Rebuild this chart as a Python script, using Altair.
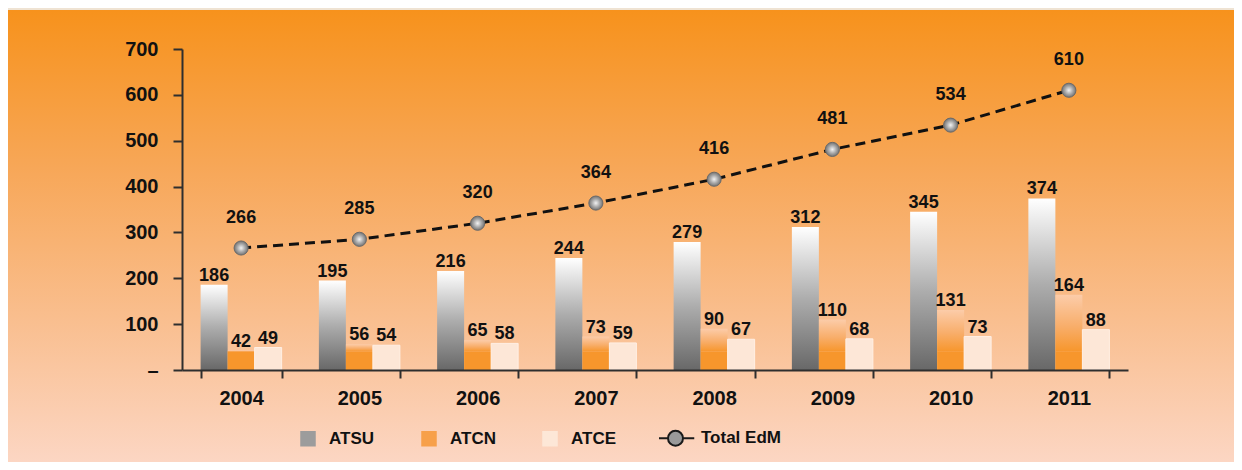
import altair as alt
import pandas as pd

years = ["2004", "2005", "2006", "2007", "2008", "2009", "2010", "2011"]
series_names = ["ATSU", "ATCN", "ATCE"]
atsu = [186, 195, 216, 244, 279, 312, 345, 374]
atcn = [42, 56, 65, 73, 90, 110, 131, 164]
atce = [49, 54, 58, 59, 67, 68, 73, 88]
total_name = "Total EdM"
total = [266, 285, 320, 364, 416, 481, 534, 610]
y_ticks = [0, 100, 200, 300, 400, 500, 600, 700]

FONT = "Liberation Sans, Arial, sans-serif"

rows = []
for name, vals in zip(series_names, [atsu, atcn, atce]):
    for yr, v in zip(years, vals):
        rows.append({"year": yr, "series": name, "value": v})
bars_df = pd.DataFrame(rows)
total_df = pd.DataFrame({"year": years, "value": total})
legend_df = pd.DataFrame({"series": series_names + [total_name]})

W, H = 946, 321
PAD = {"left": 174, "top": 41, "right": 106, "bottom": 92}

x_enc = alt.X(
    "year:N",
    scale=alt.Scale(domain=years, paddingInner=0.315, paddingOuter=0.1575),
    axis=alt.Axis(
        title=None, labelAngle=0, tickBand="extent", domainColor="#2e2e2e",
        domainWidth=2, tickColor="#2e2e2e", tickWidth=2, tickSize=8,
        labelFont=FONT, labelFontSize=20, labelFontWeight="bold",
        labelColor="#111111", labelPadding=10, labelBaseline="top", zindex=1,
    ),
)
y_scale = alt.Scale(domain=[0, 700], nice=False)
y_axis = alt.Axis(
    title=None, values=y_ticks, domainColor="#2e2e2e", domainWidth=2,
    tickColor="#2e2e2e", tickWidth=2, tickSize=9, labelFont=FONT,
    labelFontSize=20, labelFontWeight="bold", labelColor="#111111",
    labelPadding=15, labelExpr="datum.value == 0 ? '–' : datum.label",
    grid=False, zindex=1,
)
xoff = alt.XOffset(
    "series:N",
    scale=alt.Scale(domain=series_names, paddingInner=0, paddingOuter=0),
)

bg_grad = alt.LinearGradient(
    gradient="linear", x1=0, x2=0, y1=0, y2=1,
    stops=[
        alt.GradientStop(color="#F7921C", offset=0),
        alt.GradientStop(color="#F7A758", offset=0.35),
        alt.GradientStop(color="#F9BE8E", offset=0.68),
        alt.GradientStop(color="#FCD6C3", offset=1),
    ],
)
atsu_grad = alt.LinearGradient(
    gradient="linear", x1=0, x2=0, y1=0, y2=1,
    stops=[
        alt.GradientStop(color="#FFFFFF", offset=0),
        alt.GradientStop(color="#ADADAD", offset=0.5),
        alt.GradientStop(color="#686868", offset=1),
    ],
)
atcn_grad = alt.LinearGradient(
    gradient="linear", x1=0, x2=0, y1=0, y2=1,
    stops=[
        alt.GradientStop(color="#FCCCA9", offset=0),
        alt.GradientStop(color="#F8AE6B", offset=0.55),
        alt.GradientStop(color="#F7962C", offset=1),
    ],
)
ball_grad = alt.RadialGradient(
    gradient="radial", x1=0.5, y1=0.5, r1=0, x2=0.5, y2=0.5, r2=0.5,
    stops=[
        alt.GradientStop(color="#F4F4F4", offset=0),
        alt.GradientStop(color="#AAAAAA", offset=0.55),
        alt.GradientStop(color="#737373", offset=1),
    ],
)

bg = alt.Chart(alt.Data(values=[{}])).mark_rect(fill=bg_grad).encode(
    x=alt.value(-PAD["left"]), x2=alt.value(W + PAD["right"]),
    y=alt.value(-39), y2=alt.value(H + PAD["bottom"]),
)

base_bars = alt.Chart(bars_df)

atsu_bars = base_bars.transform_filter(alt.datum.series == "ATSU").mark_bar(
    fill=atsu_grad
).encode(x=x_enc, xOffset=xoff, y=alt.Y("value:Q", scale=y_scale, axis=y_axis))

atcn_low = base_bars.transform_filter(alt.datum.series == "ATCN").transform_calculate(
    lo="min(datum.value, 40)"
).mark_bar(fill="#F7962C").encode(
    x=x_enc, xOffset=xoff, y=alt.Y("lo:Q", scale=y_scale, axis=y_axis)
)
atcn_high = base_bars.transform_filter(
    (alt.datum.series == "ATCN") & (alt.datum.value > 40)
).transform_calculate(base="40").mark_bar(fill=atcn_grad).encode(
    x=x_enc, xOffset=xoff, y=alt.Y("base:Q", scale=y_scale, axis=y_axis),
    y2="value:Q",
)

atce_bars = base_bars.transform_filter(alt.datum.series == "ATCE").mark_bar(
    fill="#FDE7D7", stroke="#FFEFE4", strokeWidth=1
).encode(x=x_enc, xOffset=xoff, y=alt.Y("value:Q", scale=y_scale, axis=y_axis))

bar_labels = base_bars.mark_text(
    font=FONT, fontSize=18, fontWeight="bold", color="#111111",
    baseline="alphabetic", dy=-4,
).encode(x=x_enc, xOffset=xoff, y=alt.Y("value:Q", scale=y_scale, axis=y_axis),
         text="value:Q")

line = alt.Chart(total_df).mark_line(
    color="#111111", strokeWidth=3, strokeDash=[10, 6]
).encode(x=x_enc, y=alt.Y("value:Q", scale=y_scale, axis=y_axis))

balls = alt.Chart(total_df).mark_point(
    filled=True, fill=ball_grad, size=200, stroke="#6A6A6A", strokeWidth=1,
    opacity=1, shape="circle",
).encode(x=x_enc, y=alt.Y("value:Q", scale=y_scale, axis=y_axis))

line_labels = alt.Chart(total_df).mark_text(
    font=FONT, fontSize=18, fontWeight="bold", color="#111111",
    baseline="alphabetic", dy=-25,
).encode(x=x_enc, y=alt.Y("value:Q", scale=y_scale, axis=y_axis), text="value:Q")

sq = "M-0.45,-0.45H0.45V0.45H-0.45Z"
ball_path = ("M-1.4,0H-0.85M0.25,0H0.95"
             "M-0.8,0A0.5,0.5,0,1,0,0.2,0A0.5,0.5,0,1,0,-0.8,0Z")
leg_domain = series_names + [total_name]
legend = alt.Legend(
    title=None, orient="none", legendX=110, legendY=373, direction="horizontal",
    symbolSize=900, symbolStrokeWidth=2, symbolOpacity=1, labelOffset=5,
    columnPadding=38, padding=0, labelFont=FONT, labelFontSize=17,
    labelFontWeight="bold", labelColor="#111111",
)
legend_layer = alt.Chart(legend_df).mark_point(filled=True, opacity=0).encode(
    fill=alt.Fill("series:N", scale=alt.Scale(
        domain=leg_domain, range=["#9C9C9C", "#F7A04A", "#FDE7D7", "#9A9A9A"]),
        legend=legend),
    stroke=alt.Stroke("series:N", scale=alt.Scale(
        domain=leg_domain, range=["#9C9C9C", "#F7A04A", "#FDE7D7", "#1A1A1A"]),
        legend=legend),
    shape=alt.Shape("series:N", scale=alt.Scale(
        domain=leg_domain, range=[sq, sq, sq, ball_path]), legend=legend),
)

chart = alt.layer(
    bg, atsu_bars, atcn_low, atcn_high, atce_bars, bar_labels,
    line, balls, line_labels, legend_layer,
).properties(
    width=W, height=H, autosize=alt.AutoSizeParams(type="none"), padding=PAD,
    background="#EFE3D3",
).configure_view(stroke=None)

chart.save("out.html", embed_options={"renderer": "svg", "actions": False})
